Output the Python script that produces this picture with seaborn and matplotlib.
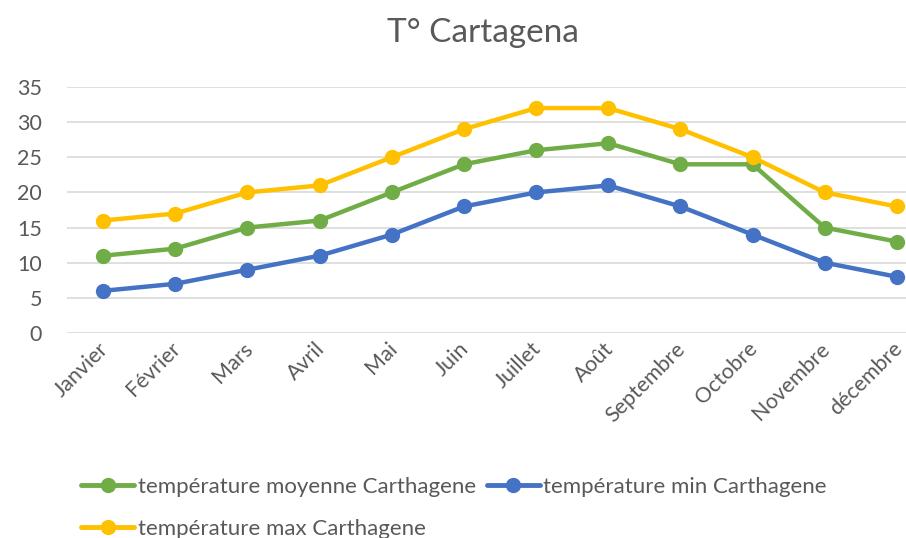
import matplotlib
matplotlib.use("Agg")
import matplotlib.pyplot as plt
import matplotlib.transforms as mtransforms
import pandas as pd
import seaborn as sns

mois = ["Janvier", "Février", "Mars", "Avril", "Mai", "Juin", "Juillet",
        "Août", "Septembre", "Octobre", "Novembre", "décembre"]
t_moyenne = [11, 12, 15, 16, 20, 24, 26, 27, 24, 24, 15, 13]
t_min = [6, 7, 9, 11, 14, 18, 20, 21, 18, 14, 10, 8]
t_max = [16, 17, 20, 21, 25, 29, 32, 32, 29, 25, 20, 18]

series = {
    "température moyenne Carthagene": t_moyenne,
    "température min Carthagene": t_min,
    "température max Carthagene": t_max,
}
colors = {
    "température moyenne Carthagene": "#70AD47",
    "température min Carthagene": "#4472C4",
    "température max Carthagene": "#FFC000",
}

df = pd.concat(
    [pd.DataFrame({"mois": mois, "temp": v, "serie": k}) for k, v in series.items()],
    ignore_index=True,
)

sns.set_theme(style="white")
plt.rcParams["font.family"] = ["Lato", "DejaVu Sans"]

fig = plt.figure(figsize=(9.06, 5.38), dpi=100)
ax = fig.add_axes([67 / 906, 205 / 538, 866 / 906, 246 / 538])

sns.lineplot(data=df, x="mois", y="temp", hue="serie", palette=colors,
             marker="o", markersize=11, markeredgewidth=0, linewidth=3.2,
             sort=False, ax=ax, legend=False)

ax.set_xlim(-0.5, 11.5)
ax.set_ylim(0, 35)
ax.set_yticks(range(0, 36, 5))
ax.yaxis.grid(True, color="#D9D9D9", linewidth=1.2)
ax.set_axisbelow(True)
for s in ax.spines.values():
    s.set_visible(False)
ax.set_xlabel("")
ax.set_ylabel("")
ax.tick_params(axis="both", length=0, colors="#595959", labelsize=15.5)
ax.tick_params(axis="y", pad=18)
ax.tick_params(axis="x", pad=4)
# nudge rotated month labels a little to the left, as in the original
shift = mtransforms.ScaledTranslation(-5 / 100, 0, fig.dpi_scale_trans)
for lbl in ax.get_xticklabels():
    lbl.set_rotation(45)
    lbl.set_ha("right")
    lbl.set_rotation_mode("anchor")
    lbl.set_transform(lbl.get_transform() + shift)

fig.text(483 / 906, 1 - 33 / 538, "T° Cartagena", ha="center", va="center",
         fontsize=24, color="#595959")

order = ["température moyenne Carthagene", "température max Carthagene",
         "température min Carthagene"]
handles = [plt.Line2D([], [], color=colors[k], linewidth=3.5, marker="o",
                      markersize=11, markeredgewidth=0) for k in order]
fig.legend(handles, order, loc="upper left", bbox_to_anchor=(72 / 906, 1 - 468 / 538),
           ncol=2, frameon=False, fontsize=16, labelcolor="#595959",
           handlelength=2.4, handletextpad=0.15, columnspacing=0.5, labelspacing=1.0,
           borderaxespad=0)

fig.savefig("out.png", dpi=100)
